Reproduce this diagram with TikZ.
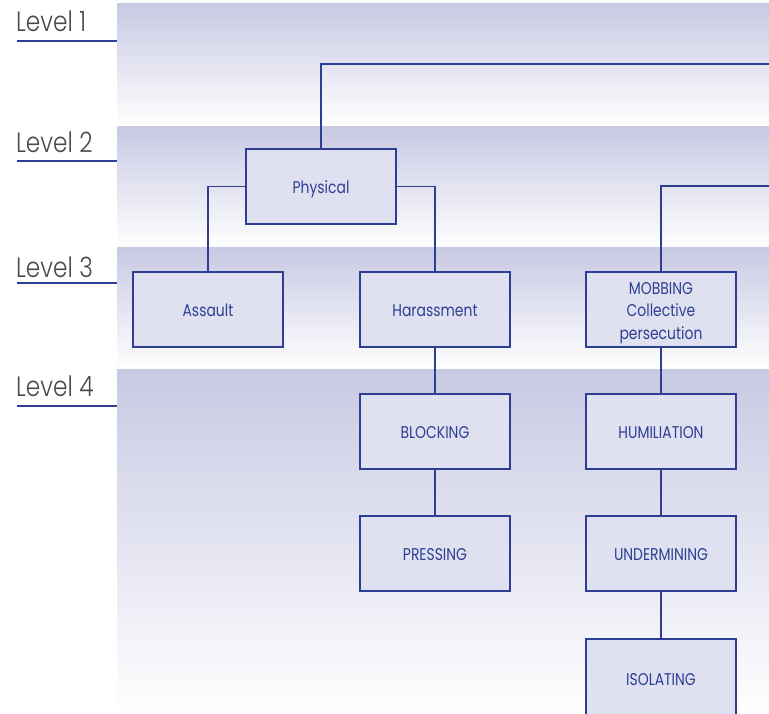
\documentclass[tikz,border=0pt]{standalone}
\usepackage{fontspec}
\setmainfont{Poppins}[FakeStretch=0.82]
\newfontfamily\lightfont{Poppins Light}[FakeStretch=0.83]
\definecolor{ink}{HTML}{2E3F93}
\definecolor{band}{HTML}{C8C9E3}
\definecolor{boxfill}{HTML}{DFE0F0}
\definecolor{lvl}{HTML}{4A4A4A}
\tikzset{
  box/.style={draw=ink, line width=1.2pt, fill=boxfill, minimum width=150pt, minimum height=75pt, inner sep=0pt, text=ink, font=\fontsize{17}{22.5}\selectfont, align=center, text height=14pt, text depth=0pt},
  conn/.style={draw=ink, line width=1.2pt},
  lvltext/.style={anchor=base west, text=lvl, font=\lightfont\fontsize{28}{30}\selectfont, inner sep=0pt},
  lvlline/.style={draw=ink, line width=1.2pt}
}
\begin{document}
\begin{tikzpicture}[x=1pt,y=-1pt]
\useasboundingbox (0,0) rectangle (769,714);
\clip (0,0) rectangle (769,714);
\fill[white] (0,0) rectangle (769,714);
% bands
\shade[top color=band, bottom color=white] (117,4) rectangle (769,127);
\shade[top color=band, bottom color=white] (117,127) rectangle (769,248);
\shade[top color=band, bottom color=white] (117,248) rectangle (769,369);
\shade[top color=band, bottom color=white] (117,369) rectangle (769,714);
% level labels
\node[lvltext] (l1) at (16,32) {Level 1};
\node[lvltext] (l2) at (16,153) {Level 2};
\node[lvltext] (l3) at (16,278) {Level 3};
\node[lvltext] (l4) at (16,396) {Level 4};
\draw[lvlline] (17,41) -- (117,41);
\draw[lvlline] (17,161) -- (117,161);
\draw[lvlline] (17,283) -- (117,283);
\draw[lvlline] (17,406) -- (117,406);
% nodes
\node[box] (phys) at (321,186.5) {Physical};
\node[box] (assault) at (208,309.5) {Assault};
\node[box] (har) at (435,309.5) {Harassment};
\node[box, text height=59pt] (mob) at (661,309.5) {MOBBING\\Collective\\persecution};
\node[box] (block) at (435,431.5) {BLOCKING};
\node[box] (humil) at (661,431.5) {HUMILIATION};
\node[box] (press) at (435,553.5) {PRESSING};
\node[box] (under) at (661,553.5) {UNDERMINING};
\node[box, minimum height=78pt] (isol) at (661,678) {ISOLATING};
\coordinate (e1) at (775,64);
\coordinate (e2) at (775,186);
% connectors
\draw[conn] (phys.north) |- (e1);
\draw[conn] (phys.west) -| (assault.north);
\draw[conn] (phys.east) -| (har.north);
\draw[conn] (e2) -| (mob.north);
\draw[conn] (har.south) -- (block.north);
\draw[conn] (block.south) -- (press.north);
\draw[conn] (mob.south) -- (humil.north);
\draw[conn] (humil.south) -- (under.north);
\draw[conn] (under.south) -- (isol.north);
\end{tikzpicture}
\end{document}
